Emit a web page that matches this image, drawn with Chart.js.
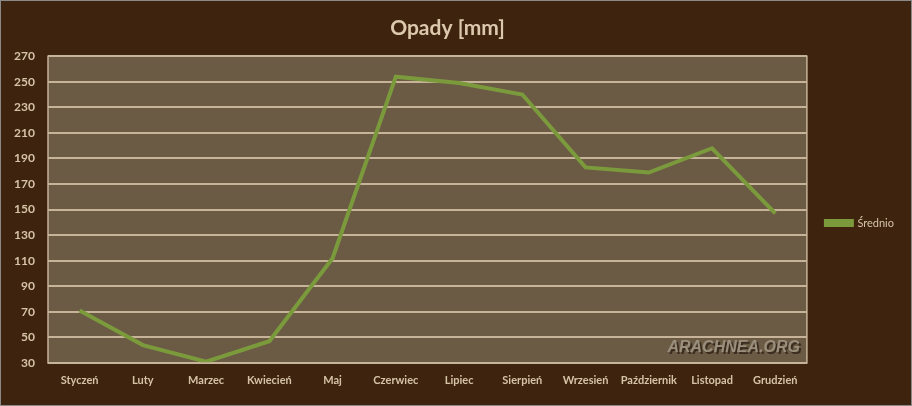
<!DOCTYPE html>
<html>
<head>
<meta charset="utf-8">
<script src="https://cdn.jsdelivr.net/npm/chart.js@4/dist/chart.umd.min.js"></script>
<style>
  html, body { margin: 0; padding: 0; background: #3e230f; }
  #wrap { width: 912px; height: 406px; }
</style>
</head>
<body>
<div id="wrap"><canvas id="myChart" width="912" height="406"></canvas></div>
<script>
// dane - srednie opady miesieczne
var miesiace = ['Styczeń', 'Luty', 'Marzec', 'Kwiecień', 'Maj', 'Czerwiec',
  'Lipiec', 'Sierpień', 'Wrzesień', 'Październik', 'Listopad', 'Grudzień'];
var opady = [71, 44, 31, 47, 112, 254, 249, 240, 183, 179, 198, 147];
var osY_min = 30;
var osY_max = 270;
var osY_krok = 20;

var jasny = '#d6c3a7';
var siatka = '#c6b398';

// tlo obszaru wykresu, ramka i znak wodny
var tloPlugin = {
  id: 'tlo',
  afterLayout: function (chart) {
    // przesuniecie legendy troche w dol i w prawo
    var l = chart.legend;
    l.top += 20; l.bottom += 20;
    l.left += 9; l.right += 9;
  },
  beforeDraw: function (chart) {
    var ctx = chart.ctx;
    var a = chart.chartArea;
    ctx.save();
    ctx.fillStyle = '#3e230f';
    ctx.fillRect(0, 0, chart.width, chart.height);
    ctx.fillStyle = '#6b5b45';
    ctx.fillRect(a.left, a.top, a.right - a.left, a.bottom - a.top);
    ctx.restore();
  },
  afterDatasetsDraw: function (chart) {
    var ctx = chart.ctx;
    var a = chart.chartArea;
    ctx.save();
    ctx.strokeStyle = siatka;
    ctx.lineWidth = 1.5;
    ctx.strokeRect(a.left, a.top, a.right - a.left, a.bottom - a.top);
    // znak wodny
    ctx.font = 'italic bold 16px "Liberation Sans"';
    ctx.textAlign = 'right';
    ctx.textBaseline = 'middle';
    ctx.fillStyle = '#3a2c1e';
    ctx.fillText('ARACHNEA.ORG', a.right - 5, a.bottom - 13);
    ctx.fillStyle = '#9a8e7c';
    ctx.fillText('ARACHNEA.ORG', a.right - 7, a.bottom - 15);
    // ramka calego obrazka
    ctx.strokeStyle = '#8a8a8a';
    ctx.lineWidth = 1;
    ctx.strokeRect(0.5, 0.5, chart.width - 1, chart.height - 1);
    ctx.restore();
  }
};

const ctx = document.getElementById('myChart').getContext('2d');
const myChart = new Chart(ctx, {
  type: 'line',
  data: {
    labels: miesiace,
    datasets: [{
      label: 'Średnio',
      data: opady,
      borderColor: '#7b9a3c',
      backgroundColor: '#7b9a3c',
      borderWidth: 4,
      pointRadius: 0,
      tension: 0,
      fill: false
    }]
  },
  options: {
    responsive: false,
    animation: false,
    layout: {
      padding: { left: 0, right: 17, top: 0, bottom: 0 }
    },
    plugins: {
      title: {
        display: true,
        text: 'Opady [mm]',
        color: '#dcc8ad',
        font: { family: 'Lato', size: 21, weight: 'bold' },
        padding: { top: 16, bottom: 15 }
      },
      legend: {
        display: true,
        position: 'right',
        labels: {
          color: jasny,
          boxWidth: 26,
          boxHeight: 4,
          padding: 10,
          font: { family: 'Lato', size: 11 }
        }
      },
      tooltip: { enabled: false }
    },
    scales: {
      x: {
        offset: true,
        grid: { display: false, drawTicks: false },
        border: { display: false },
        ticks: {
          color: jasny,
          padding: 11,
          maxRotation: 0,
          autoSkip: false,
          font: { family: 'Lato', size: 11, weight: 'bold' }
        },
        afterFit: function (scale) { scale.height = 43; }
      },
      y: {
        min: osY_min,
        max: osY_max,
        grid: { color: siatka, lineWidth: 2, drawTicks: false },
        border: { display: false },
        ticks: {
          stepSize: osY_krok,
          color: jasny,
          padding: 13,
          font: { family: 'Lato', size: 12, weight: 'bold' }
        },
        afterFit: function (scale) { scale.width = 48; }
      }
    }
  },
  plugins: [tloPlugin]
});
</script>
</body>
</html>
